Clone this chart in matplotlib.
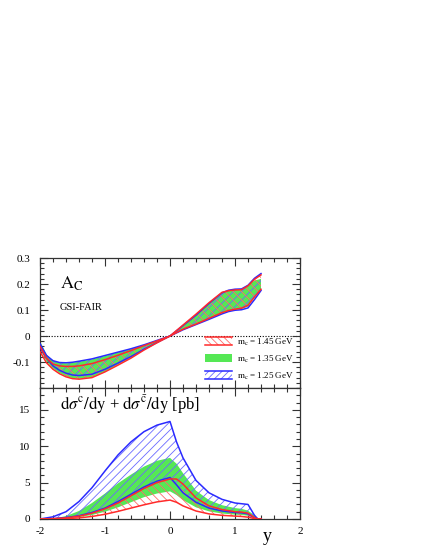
import matplotlib
matplotlib.use("Agg")
import matplotlib.pyplot as plt
from matplotlib.legend_handler import HandlerBase
from matplotlib.patches import Rectangle
from matplotlib.lines import Line2D
from matplotlib.ticker import MultipleLocator

plt.rcParams['font.family'] = ['Liberation Serif', 'DejaVu Serif']
plt.rcParams['mathtext.fontset'] = 'stix'
plt.rcParams['hatch.linewidth'] = 0.6

# ---------------- data: top panel (A_C) ----------------
xs_t = [-2.0, -1.9, -1.8, -1.7, -1.6, -1.5, -1.4, -1.2, -1.0, -0.8, -0.6, -0.4, -0.2,
        0.0, 0.2, 0.4, 0.6, 0.8, 0.9, 1.0, 1.1, 1.2, 1.3, 1.4]
ac_blue_up = [-0.03, -0.075, -0.095, -0.102, -0.103, -0.101, -0.097, -0.088, -0.075, -0.062,
              -0.049, -0.034, -0.017, 0.0, 0.04, 0.08, 0.125, 0.166, 0.176, 0.18, 0.181, 0.195, 0.222, 0.24]
ac_blue_lo = [-0.045, -0.085, -0.115, -0.132, -0.143, -0.15, -0.152, -0.147, -0.128, -0.104,
              -0.079, -0.051, -0.025, 0.0, 0.024, 0.044, 0.064, 0.085, 0.094, 0.099, 0.101, 0.108, 0.14, 0.175]
ac_red_up = [-0.04, -0.085, -0.108, -0.115, -0.117, -0.117, -0.115, -0.106, -0.091, -0.074,
             -0.056, -0.037, -0.019, 0.0, 0.042, 0.084, 0.128, 0.168, 0.174, 0.177, 0.178, 0.193, 0.218, 0.235]
ac_red_lo = [-0.06, -0.103, -0.128, -0.145, -0.157, -0.164, -0.166, -0.16, -0.138, -0.112,
             -0.085, -0.054, -0.026, 0.0, 0.026, 0.046, 0.068, 0.09, 0.098, 0.103, 0.107, 0.118, 0.15, 0.18]
ac_green_up = [-0.02, -0.07, -0.095, -0.103, -0.105, -0.103, -0.099, -0.09, -0.077, -0.063,
               -0.05, -0.035, -0.018, 0.0, 0.04, 0.082, 0.126, 0.167, 0.175, 0.178, 0.179, 0.196, 0.213, 0.22]
ac_green_lo = [-0.05, -0.098, -0.125, -0.142, -0.155, -0.162, -0.164, -0.158, -0.137, -0.11,
               -0.083, -0.053, -0.026, 0.0, 0.025, 0.045, 0.066, 0.088, 0.096, 0.1, 0.104, 0.113, 0.15, 0.18]

# ---------------- data: bottom panel (dsigma/dy) ----------------
xs_b = [-2.0, -1.8, -1.6, -1.4, -1.2, -1.0, -0.8, -0.6, -0.4, -0.2, 0.0, 0.1, 0.2,
        0.4, 0.6, 0.8, 1.0, 1.1, 1.2, 1.3, 1.35, 1.4]
xs_blue_up = [0.0, 0.3, 1.0, 2.4, 4.3, 6.6, 8.8, 10.6, 12.0, 12.9, 13.4, 10.6, 8.4,
              5.3, 3.6, 2.7, 2.2, 2.1, 2.0, 0.5, 0.0, 0.0]
xs_blue_lo = [0.0, 0.05, 0.2, 0.45, 0.9, 1.5, 2.4, 3.4, 4.4, 5.2, 5.7, 4.7, 3.6,
              2.3, 1.5, 1.1, 0.9, 0.85, 0.7, 0.15, 0.0, 0.0]
xs_green_up = [0.0, 0.05, 0.4, 1.1, 2.2, 3.5, 4.9, 6.1, 7.2, 8.0, 8.4, 7.6, 6.3,
               3.9, 2.6, 1.9, 1.5, 1.4, 1.15, 0.5, 0.15, 0.0]
xs_green_lo = [0.0, 0.0, 0.1, 0.25, 0.55, 1.0, 1.6, 2.3, 3.0, 3.5, 3.8, 3.3, 2.6,
               1.6, 1.05, 0.75, 0.6, 0.55, 0.45, 0.1, 0.02, 0.0]
xs_red_up = [0.0, 0.05, 0.15, 0.4, 0.8, 1.4, 2.2, 3.2, 4.2, 5.0, 5.5, 5.5, 4.8,
             2.9, 1.8, 1.3, 1.0, 0.95, 0.8, 0.2, 0.0, 0.0]
xs_red_lo = [0.0, 0.0, 0.05, 0.15, 0.35, 0.65, 1.05, 1.5, 1.95, 2.35, 2.6, 2.3, 1.8,
             1.1, 0.7, 0.5, 0.4, 0.35, 0.25, 0.05, 0.0, 0.0]

labels = ['$\\mathrm{m_c}$ = 1.45 GeV', '$\\mathrm{m_c}$ = 1.35 GeV', '$\\mathrm{m_c}$ = 1.25 GeV']

RED = '#ff2a2a'
RED_H = '#ff6a6a'
BLUE = '#2a2aff'
BLUE_H = '#6a6aff'
GREEN = '#55e855'

fig = plt.figure(figsize=(4.32, 5.59), dpi=100)
W, H = 432, 559
L, R = 40 / W, 300 / W
ax1 = fig.add_axes([L, 1 - 388 / H, R - L, (388 - 258) / H])
ax2 = fig.add_axes([L, 1 - 519 / H, R - L, (519 - 388) / H])


def draw_bands(ax, x, gup, glo, bup, blo, rup, rlo):
    g = ax.fill_between(x, glo, gup, facecolor=GREEN, edgecolor='none', lw=0, zorder=1)
    b = ax.fill_between(x, blo, bup, facecolor='none', edgecolor=BLUE_H, lw=0, hatch='////', zorder=2)
    r = ax.fill_between(x, rlo, rup, facecolor='none', edgecolor=RED_H, lw=0, hatch='\\\\\\\\', zorder=2)
    for y in (bup, blo):
        ax.plot(x, y, color=BLUE, lw=1.1, zorder=3)
    for y in (rup, rlo):
        ax.plot(x, y, color=RED, lw=1.1, zorder=3)
    return r, g, b


r1, g1, b1 = draw_bands(ax1, xs_t, ac_green_up, ac_green_lo, ac_blue_up, ac_blue_lo, ac_red_up, ac_red_lo)
draw_bands(ax2, xs_b, xs_green_up, xs_green_lo, xs_blue_up, xs_blue_lo, xs_red_up, xs_red_lo)

ax1.axhline(0, color='black', lw=0.8, ls=(0, (1, 1.5)), zorder=0)

for ax in (ax1, ax2):
    ax.set_xlim(-2, 2)
    ax.xaxis.set_major_locator(MultipleLocator(1))
    ax.xaxis.set_minor_locator(MultipleLocator(0.2))
    ax.tick_params(which='both', direction='in', top=True, right=True, labelsize=8,
                   color='#333333', width=0.8)
    ax.tick_params(which='major', length=6)
    ax.tick_params(which='minor', length=3)
    ax.tick_params(axis='y', pad=7)
    ax.tick_params(axis='x', pad=6)
    for s in ax.spines.values():
        s.set_linewidth(0.9)
        s.set_color('#333333')

ax1.set_ylim(-0.2, 0.3)
ax1.set_yticks([-0.1, 0, 0.1, 0.2, 0.3])
ax1.set_yticklabels(['-0.1', '0', '0.1', '0.2', '0.3'])
ax1.yaxis.set_minor_locator(MultipleLocator(0.02))
ax1.tick_params(labelbottom=False)

ax2.set_ylim(0, 18)
ax2.set_yticks([0, 5, 10, 15])
ax2.yaxis.set_minor_locator(MultipleLocator(1))
ax2.set_xticks([-2, -1, 0, 1, 2])
ax2.set_xticklabels(['-2', '-1', '0', '1', '2'])

ax2.set_xlabel('y', fontsize=13)
ax2.xaxis.set_label_coords(0.873, -0.07)

ax1.text(0.077, 0.80, '$\\mathrm{A_C}$', transform=ax1.transAxes, fontsize=13, va='center')
ax1.text(0.077, 0.62, 'GSI-FAIR', transform=ax1.transAxes, fontsize=7.5, va='center')
ax2.text(0.077, 0.87, '$\\mathrm{d}\\sigma^{\\mathrm{c}}\\mathrm{/dy}$ + $\\mathrm{d}\\sigma^{\\bar{\\mathrm{c}}}\\mathrm{/dy}$ [pb]',
         transform=ax2.transAxes, fontsize=12, va='center')


class BandHandler(HandlerBase):
    def __init__(self, fc, hatch, hc, lc):
        super().__init__()
        self.fc, self.hatch, self.hc, self.lc = fc, hatch, hc, lc

    def create_artists(self, legend, orig_handle, xdescent, ydescent, width, height, fontsize, trans):
        x0, y0 = -xdescent, -ydescent
        rect = Rectangle((x0, y0), width, height, facecolor=self.fc, edgecolor=self.hc,
                         lw=0, hatch=self.hatch, transform=trans)
        arts = [rect]
        if self.lc is not None:
            arts.append(Line2D([x0, x0 + width], [y0, y0], color=self.lc, lw=1.1, transform=trans))
            arts.append(Line2D([x0, x0 + width], [y0 + height, y0 + height], color=self.lc, lw=1.1, transform=trans))
        return arts


hmap = {r1: BandHandler('none', '\\\\\\\\\\', RED_H, RED),
        g1: BandHandler(GREEN, None, GREEN, None),
        b1: BandHandler('none', '/////', BLUE_H, BLUE)}
ax1.legend([r1, g1, b1], labels, handler_map=hmap, loc='lower right', frameon=False,
           fontsize=6.5, handlelength=3.0, handleheight=1.0, labelspacing=0.65,
           handletextpad=0.55, borderaxespad=0.3, bbox_to_anchor=(1.0, 0.0))

fig.savefig('out.png', dpi=100)
